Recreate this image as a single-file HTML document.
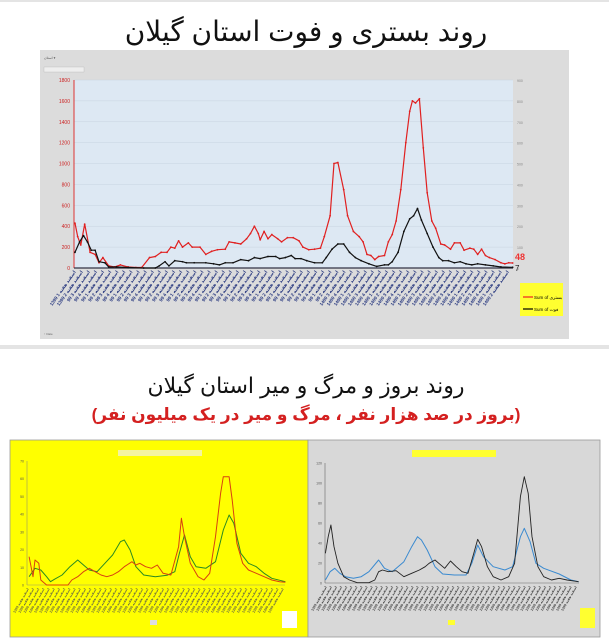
<!DOCTYPE html>
<html><head><meta charset="utf-8">
<style>
html,body{margin:0;padding:0;background:#fff;width:609px;height:640px;overflow:hidden}
svg{display:block}
text{font-family:"Liberation Sans","DejaVu Sans",sans-serif}
</style></head><body>
<svg id="s" width="609" height="640" viewBox="0 0 609 640" xmlns="http://www.w3.org/2000/svg">
<rect width="609" height="640" fill="#fff"/>
<rect x="0" y="0" width="609" height="2" fill="#e4e4e4"/>
<text x="306" y="41" font-size="28" text-anchor="middle" fill="#111" font-family="'DejaVu Sans',sans-serif">روند بستری و فوت استان گیلان</text>
<rect x="40" y="50" width="529" height="289" fill="#dcdcdc"/>
<rect x="74" y="80" width="439" height="188" fill="#dde8f3"/>
<g id="topgrid"></g>
<line x1="74" y1="80" x2="74" y2="268" stroke="#d33" stroke-width="1"/>
<line x1="74" y1="268" x2="513" y2="268" stroke="#334" stroke-width="1.2"/>
<text x="44" y="59" font-size="3.5" fill="#555">استان ▾</text>
<rect x="44" y="67" width="40" height="5" fill="#eee" stroke="#aaa" stroke-width="0.3"/>
<g id="top"></g>
<text x="515" y="260" font-size="9" fill="#e33" font-weight="bold">48</text>
<text x="515" y="271" font-size="8" fill="#222">7</text>
<rect x="520" y="283" width="43" height="33" fill="#ffff30"/>
<line x1="523" y1="297" x2="533" y2="297" stroke="#e22" stroke-width="1.2"/>
<line x1="523" y1="309" x2="533" y2="309" stroke="#000" stroke-width="1.2"/>
<text x="534" y="299" font-size="4.5" fill="#000">Sum of بستری</text>
<text x="534" y="311" font-size="4.5" fill="#000">Sum of فوت</text>
<rect x="0" y="345" width="609" height="4" fill="#e4e4e4"/>
<text x="306" y="393" font-size="22" text-anchor="middle" fill="#111" font-family="'DejaVu Sans',sans-serif">روند بروز و مرگ و میر استان گیلان</text>
<text x="306" y="420" font-size="17" font-weight="bold" text-anchor="middle" fill="#d42020" font-family="'DejaVu Sans',sans-serif">(بروز در صد هزار نفر ، مرگ و میر در یک میلیون نفر)</text>
<rect x="10" y="440" width="298" height="197" fill="#ffff00" stroke="#999" stroke-width="0.8"/>
<rect x="118" y="450" width="84" height="6" fill="#f4f4a0"/>
<line x1="27" y1="461" x2="27" y2="585" stroke="#996" stroke-width="0.6"/>
<line x1="27" y1="585" x2="285" y2="585" stroke="#996" stroke-width="0.6"/>
<rect x="282" y="611" width="15" height="17" fill="#fff"/>
<rect x="150" y="620" width="7" height="5" fill="#ddd"/>
<rect x="308" y="440" width="292" height="197" fill="#d8d8d8" stroke="#999" stroke-width="0.8"/>
<rect x="412" y="450" width="84" height="7" fill="#ffff30"/>
<line x1="325" y1="463" x2="325" y2="583" stroke="#666" stroke-width="0.6"/>
<line x1="325" y1="583" x2="579" y2="583" stroke="#666" stroke-width="0.6"/>
<rect x="580" y="608" width="15" height="20" fill="#ffff30"/>
<rect x="448" y="620" width="7" height="5" fill="#ffff30"/>
<g id="bot"></g>
</svg>
<script>
var NS="http://www.w3.org/2000/svg",s=document.getElementById('s');
function el(t,a,p){var e=document.createElementNS(NS,t);for(var k in a)e.setAttribute(k,a[k]);(p||s).appendChild(e);return e;}
function txt(x,y,str,a,p){var e=el('text',Object.assign({x:x,y:y},a),p);e.textContent=str;return e;}
var tg=document.getElementById('topgrid');
for(var v=0;v<=1800;v+=200){var y=268-v/1800*188;
 el('line',{x1:74,x2:513,y1:y,y2:y,stroke:'#c8d4e0','stroke-width':0.5},tg);
 txt(70,y+2,String(v),{'font-size':5,fill:'#c22','text-anchor':'end'},tg);
 txt(517,y+2,String(v/2),{'font-size':3.5,fill:'#888'},tg);}
function poly(pts,tx,ty,col,w,g,mark){var p=pts.map(function(q){return tx(q[0]).toFixed(1)+','+ty(q[1]).toFixed(1)}).join(' ');
 el('polyline',{points:p,fill:'none',stroke:col,'stroke-width':w,'stroke-linejoin':'round'},g);
 if(mark)pts.forEach(function(q){el('circle',{cx:tx(q[0]),cy:ty(q[1]),r:0.9,fill:col},g)});}
var T=document.getElementById('top');
var red=[[193,430],[200,300],[208,220],[218,420],[232,150],[245,130],[255,50],[265,100],[280,20],[295,10],[310,30],[330,10],[350,5],[365,5],[385,100],[400,110],[415,150],[430,150],[440,200],[450,190],[460,260],[470,200],[485,240],[495,200],[515,200],[530,130],[545,160],[560,175],[580,180],[590,250],[605,240],[620,230],[635,280],[645,330],[655,400],[665,330],[670,270],[680,350],[690,280],[700,320],[715,280],[725,250],[740,290],[755,290],[770,260],[780,200],[795,175],[810,180],[825,190],[835,300],[850,500],[860,1000],[870,1010],[885,750],[895,500],[910,350],[925,300],[935,250],[945,130],[955,120],[965,80],[975,110],[990,120],[1000,250],[1010,320],[1020,450],[1032,750],[1045,1200],[1055,1500],[1062,1600],[1070,1580],[1080,1620],[1090,1150],[1100,720],[1112,450],[1122,380],[1135,230],[1145,220],[1160,180],[1170,240],[1185,240],[1195,170],[1210,190],[1220,180],[1230,130],[1240,180],[1250,120],[1260,100],[1275,80],[1290,50],[1300,40],[1310,50],[1320,48]];
var blk=[[193,150],[205,250],[215,310],[225,250],[235,170],[245,170],[255,60],[270,50],[280,10],[300,10],[330,5],[370,0],[400,0],[410,20],[425,60],[435,20],[450,70],[470,60],[480,50],[500,50],[530,50],[550,40],[565,30],[580,50],[600,50],[620,80],[640,70],[655,100],[670,90],[690,110],[710,110],[720,90],[735,100],[750,120],[760,90],[775,90],[790,70],[810,50],[830,50],[840,100],[855,180],[870,230],[885,230],[900,150],[915,100],[930,70],[950,40],[970,15],[990,30],[1000,30],[1010,60],[1025,150],[1040,350],[1055,470],[1065,500],[1075,570],[1085,460],[1100,330],[1115,200],[1130,100],[1140,70],[1155,70],[1170,50],[1185,60],[1200,40],[1215,30],[1230,40],[1250,30],[1270,20],[1290,10],[1320,7]];
var tx1=function(x){return x/2.575},ty1=function(v){return 268-v/1800*188};
poly(red,tx1,ty1,'#e02020',1.2,T,true);
poly(blk,tx1,ty1,'#111',1.2,T,true);
for(var i=0;i<62;i++){var x=76+i*7.1;var lab=(i<2?'1399 ':i<38?'99 ':'1400 ')+'اسفند هفته '+(i%4+1);
 txt(x,272,lab,{'font-size':4.6,fill:'#2a3a80','font-weight':'bold','text-anchor':'end',transform:'rotate(-55 '+x+' 272)'},T);}
txt(44,335,'↑ Date',{'font-size':3,fill:'#666'},T);
var B=document.getElementById('bot');
var txL=function(x){return x/2.575},tyL=function(y){return 350+y/3};
for(var v=0;v<=70;v+=10){var y=585-v/70*124;txt(24,y+1.5,String(v),{'font-size':3.5,fill:'#555','text-anchor':'end'},B);}
for(var v=0;v<=120;v+=20){var y=583-v/120*120;txt(322,y+1.5,String(v),{'font-size':3.5,fill:'#555','text-anchor':'end'},B);}
var orng=[[75,620],[85,680],[90,630],[100,640],[105,690],[120,705],[140,705],[175,705],[185,690],[200,680],[215,665],[230,655],[245,665],[260,675],[275,680],[290,675],[305,665],[320,650],[340,635],[350,645],[360,640],[375,650],[390,655],[405,645],[420,670],[440,675],[460,590],[467,505],[475,560],[490,640],[510,680],[525,690],[540,670],[555,560],[568,430],[575,380],[590,380],[598,450],[610,580],[625,640],[640,660],[660,670],[680,680],[700,690],[720,695],[735,697]];
var grn=[[75,680],[90,655],[105,660],[120,680],[130,695],[140,688],[160,675],[180,650],[200,630],[215,645],[230,660],[250,665],[270,640],[290,615],[310,575],[320,570],[335,600],[350,650],[370,675],[400,680],[430,676],[450,665],[462,610],[475,555],[490,620],[505,650],[530,655],[555,635],[575,540],[590,495],[602,520],[620,610],[640,640],[660,650],[680,670],[700,685],[735,695]];
poly(grn,txL,tyL,'#2a8a20',1,B);
poly(orng,txL,tyL,'#d84010',1,B);
var bk2=[[838,610],[845,560],[852,525],[860,590],[870,640],[885,680],[900,690],[920,698],[950,698],[965,690],[975,665],[985,660],[1000,665],[1020,662],[1040,680],[1060,670],[1080,660],[1095,650],[1105,640],[1120,630],[1130,640],[1145,655],[1160,633],[1175,650],[1190,665],[1205,670],[1220,610],[1230,568],[1240,590],[1255,650],[1270,680],[1290,690],[1310,680],[1325,640],[1340,440],[1350,380],[1360,430],[1370,560],[1385,650],[1400,680],[1420,690],[1440,685],[1460,690],[1490,695]];
var bl2=[[838,690],[850,665],[862,655],[875,670],[890,680],[910,685],[930,680],[950,665],[975,630],[990,655],[1010,665],[1040,635],[1060,590],[1075,560],[1085,570],[1100,600],[1120,650],[1140,672],[1170,675],[1200,675],[1215,640],[1230,585],[1245,620],[1270,650],[1300,660],[1320,650],[1340,560],[1350,535],[1365,575],[1380,640],[1400,655],[1440,672],[1470,690],[1490,695]];
poly(bl2,txL,tyL,'#3a8ad0',1,B);
poly(bk2,txL,tyL,'#222',0.9,B);
for(var i=0;i<50;i++){var x=29+i*5.2;txt(x,589,'1399 اسفند هفته',{'font-size':3.4,fill:'#664','font-weight':'bold','text-anchor':'end',transform:'rotate(-60 '+x+' 589)'},B);
 var x2=327+i*5.1;txt(x2,587,'1399 اسفند هفته',{'font-size':3.4,fill:'#444','font-weight':'bold','text-anchor':'end',transform:'rotate(-60 '+x2+' 587)'},B);}
</script>
</body></html>
